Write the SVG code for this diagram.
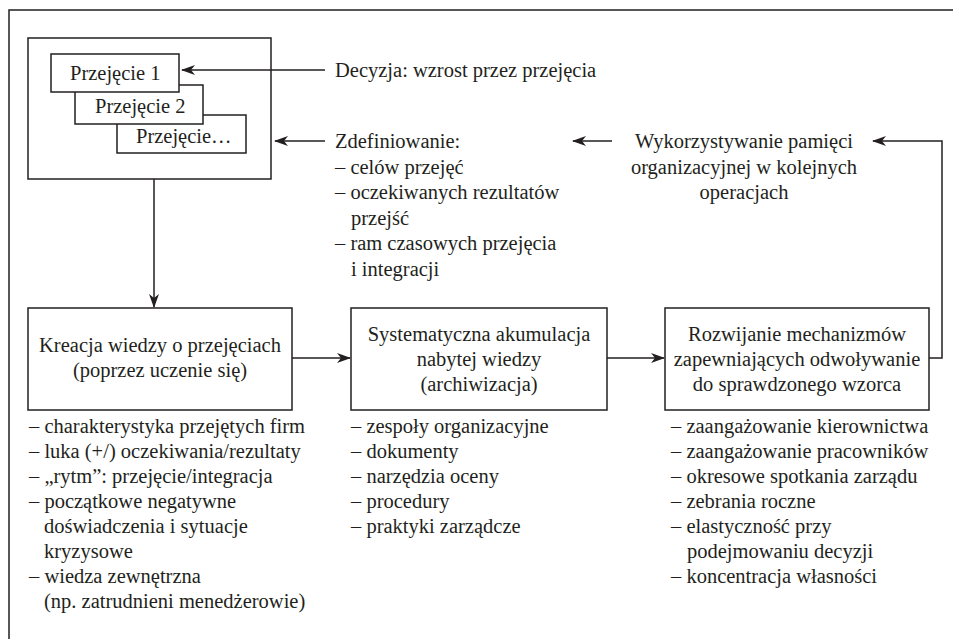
<svg xmlns="http://www.w3.org/2000/svg" width="953" height="639" viewBox="0 0 953 639">
<style>
text{font-family:Liberation Serif,Times New Roman,Times,serif;font-size:20.5px;fill:#231f20}
.c{text-anchor:middle}
.box{fill:#fff;stroke:#231f20;stroke-width:1.5}
.ln{fill:none;stroke:#231f20;stroke-width:1.5}
</style>
<defs>
<marker id="ah" viewBox="0 0 14 10" refX="13" refY="5" markerWidth="14" markerHeight="10" markerUnits="userSpaceOnUse" orient="auto">
<path d="M0,0 L14,5 L0,10 L4,5 Z" fill="#231f20"/>
</marker>
</defs>
<rect width="953" height="639" fill="#fff"/>
<path class="ln" d="M9,639 V10 H953"/>

<g id="przejecia">
<rect class="box" x="28" y="38" width="243" height="141"/>
<rect class="box" x="117" y="115" width="129" height="38"/>
<text x="136" y="143">Przejęcie…</text>
<rect class="box" x="75" y="85" width="128" height="39"/>
<text x="95" y="113">Przejęcie 2</text>
<rect class="box" x="51" y="54" width="128" height="38"/>
<text x="70" y="80">Przejęcie 1</text>
</g>

<g id="decyzja">
<text x="335" y="77">Decyzja: wzrost przez przejęcia</text>
</g>

<g id="zdefiniowanie">
<text x="335" y="148">Zdefiniowanie:</text>
<text x="335" y="173.5">– celów przejęć</text>
<text x="335" y="199">– oczekiwanych rezultatów</text>
<text x="351" y="224.5">przejść</text>
<text x="335" y="250">– ram czasowych przejęcia</text>
<text x="351" y="275.5">i integracji</text>
</g>

<g id="pamiec">
<text class="c" x="744" y="148">Wykorzystywanie pamięci</text>
<text class="c" x="744" y="174">organizacyjnej w kolejnych</text>
<text class="c" x="744" y="199">operacjach</text>
</g>

<g id="kreacja">
<rect class="box" x="28" y="308" width="264" height="102"/>
<text class="c" x="160" y="352">Kreacja wiedzy o przejęciach</text>
<text class="c" x="160" y="377">(poprzez uczenie się)</text>
</g>

<g id="akumulacja">
<rect class="box" x="351" y="308" width="256" height="102"/>
<text class="c" x="479" y="341">Systematyczna akumulacja</text>
<text class="c" x="479" y="366">nabytej wiedzy</text>
<text class="c" x="479" y="391">(archiwizacja)</text>
</g>

<g id="mechanizmy">
<rect class="box" x="665" y="308" width="264" height="102"/>
<text class="c" x="797" y="341">Rozwijanie mechanizmów</text>
<text class="c" x="797" y="366">zapewniających odwoływanie</text>
<text class="c" x="797" y="391">do sprawdzonego wzorca</text>
</g>

<g id="lista-kreacja">
<text x="29" y="433">– charakterystyka przejętych firm</text>
<text x="29" y="458">– luka (+/) oczekiwania/rezultaty</text>
<text x="29" y="483">– „rytm”: przejęcie/integracja</text>
<text x="29" y="508">– początkowe negatywne</text>
<text x="44" y="533">doświadczenia i sytuacje</text>
<text x="44" y="558">kryzysowe</text>
<text x="29" y="583">– wiedza zewnętrzna</text>
<text x="44" y="608">(np. zatrudnieni menedżerowie)</text>
</g>

<g id="lista-akumulacja">
<text x="351" y="433">– zespoły organizacyjne</text>
<text x="351" y="458">– dokumenty</text>
<text x="351" y="483">– narzędzia oceny</text>
<text x="351" y="508">– procedury</text>
<text x="351" y="533">– praktyki zarządcze</text>
</g>

<g id="lista-mechanizmy">
<text x="671" y="433">– zaangażowanie kierownictwa</text>
<text x="671" y="458">– zaangażowanie pracowników</text>
<text x="671" y="483">– okresowe spotkania zarządu</text>
<text x="671" y="508">– zebrania roczne</text>
<text x="671" y="533">– elastyczność przy</text>
<text x="687" y="558">podejmowaniu decyzji</text>
<text x="671" y="583">– koncentracja własności</text>
</g>

<g id="connectors">
<path class="ln" d="M325,70 H182" marker-end="url(#ah)"/>
<path class="ln" d="M325,141 H275" marker-end="url(#ah)"/>
<path class="ln" d="M612,141 H573" marker-end="url(#ah)"/>
<path class="ln" d="M929,358 H942 V141 H873" marker-end="url(#ah)"/>
<path class="ln" d="M154,179 V307" marker-end="url(#ah)"/>
<path class="ln" d="M292,358 H350" marker-end="url(#ah)"/>
<path class="ln" d="M607,358 H664" marker-end="url(#ah)"/>
</g>
</svg>
